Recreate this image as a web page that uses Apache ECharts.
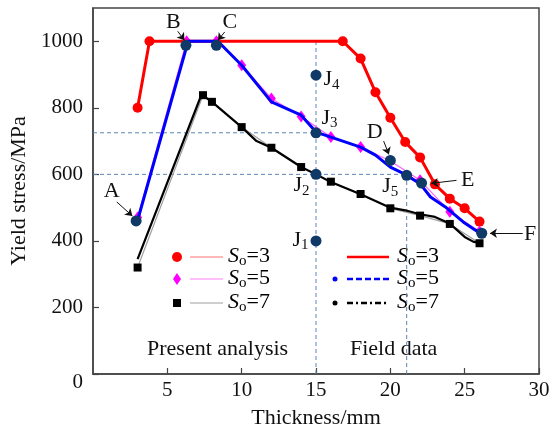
<!DOCTYPE html>
<html>
<head>
<meta charset="utf-8">
<script src="https://cdn.jsdelivr.net/npm/echarts@6/dist/echarts.min.js"></script>
<style>
  html, body { margin: 0; padding: 0; background: #fff; }
  #chart { width: 554px; height: 434px; }
</style>
</head>
<body>
<div id="chart"></div>
<script>
// Present analysis: model yield stress (MPa) against thickness (mm)
const analysisS3 = [[3, 800], [3.8, 1000], [16.8, 1000], [18, 948], [19, 847], [20, 770], [21, 697], [22, 651], [23, 570], [24, 527], [25, 498], [26, 458]];
const analysisS5 = [[3, 470], [6.3, 1000], [8.3, 1000], [10, 928], [12, 828], [14, 774], [16, 712], [18, 682], [20, 640], [22, 582], [24, 488], [26, 428]];
const analysisS7 = [[3, 320], [7.4, 838], [8, 818], [10, 742], [12, 680], [14, 622], [16, 578], [18, 541], [20, 498], [22, 476], [24, 451], [26, 393]];

// Field data curves
const fieldS3 = [[3, 800], [3.8, 1000], [16.8, 1000], [18, 948], [19, 847], [20, 770], [21, 697], [22, 651], [23, 570], [24, 527], [25, 498], [26, 458]];
const fieldS5 = [[3, 462], [6.4, 1000], [8.4, 1000], [10, 928], [12, 818], [14, 778], [15, 727], [16, 712], [18, 682], [19, 658], [20, 622], [21, 600], [22, 572], [22.7, 532], [23.7, 502], [24.9, 457], [25.7, 433], [26.1, 423]];
const fieldS7 = [[3, 345], [7.3, 840], [8, 818], [10, 742], [11, 700], [12, 680], [14, 622], [15, 600], [16, 577], [18, 540], [20, 500], [21, 492], [22, 480], [23, 472], [24, 452], [25, 412], [25.6, 397], [26, 395]];

// Key points
const keyNames = ['A', 'B', 'C', 'D', 'E', 'F', 'J1', 'J2', 'J3', 'J4', 'J5'];
const keyX = [2.9, 6.25, 8.3, 20, 22.1, 26.15, 15, 15, 15, 15, 21.1];
const keyY = [460, 988, 988, 642, 574, 423, 400, 600, 725, 898, 597];

// Dashed guide lines
const guides = [
  [[15, 0], [15, 1000]],
  [[21.1, 0], [21.1, 597]],
  [[0, 725], [15, 725]],
  [[0, 600], [21.1, 600]]
];

// Letter callouts: text anchor and arrow (tail -> head)
const calloutText = ['A', 'B', 'C', 'D', 'E', 'F'];
const calloutAt = [[1.25, 548], [5.4, 1056], [9.2, 1056], [18.95, 728], [25.2, 582], [29.4, 420]];
const calloutArrows = [
  [[1.6, 517], [2.65, 475]],
  [[5.7, 1030], [6.15, 1003]],
  [[8.86, 1028], [8.4, 1003]],
  [[19.55, 700], [19.9, 660]],
  [[24.45, 582], [22.75, 573]],
  [[28.9, 423], [26.7, 423]]
];

const xTicks = { min: 0, max: 30, step: 5 };
const yTicks = { min: 0, max: 1100, step: 200, top: 1000 };

const SERIF = '"Liberation Serif", "Times New Roman", serif';
const NAVY = '#0f3a68';
const GUIDE = '#5b86b5';

// label placement for the J points
const jLabel = {
  J1: { position: 'left', offset: [3, 0] },
  J2: { position: 'left', offset: [4, 12] },
  J3: { position: 'right', offset: [-5, -14] },
  J4: { position: 'right', offset: [-3, 5] },
  J5: { position: 'left', offset: [2, 12] }
};

const subRich = {
  j: { fontFamily: SERIF, fontSize: 22, color: '#111', lineHeight: 24, verticalAlign: 'top' },
  n: { fontFamily: SERIF, fontSize: 15, color: '#111', lineHeight: 10, verticalAlign: 'bottom' }
};

const keyData = keyNames.map((n, i) => {
  const item = { name: n, value: [keyX[i], keyY[i]] };
  if (jLabel[n]) {
    item.label = {
      show: true,
      position: jLabel[n].position,
      offset: jLabel[n].offset,
      formatter: '{j|J}{n|' + n.slice(1) + '}',
      rich: subRich
    };
  }
  return item;
});

const guideSeries = guides.map((g, i) => ({
  type: 'line',
  name: 'guide' + i,
  data: g,
  symbol: 'none',
  silent: true,
  lineStyle: { color: GUIDE, width: 1, type: [4, 3] },
  z: 1
}));

const chart = echarts.init(document.getElementById('chart'), null, { renderer: 'canvas' });

const soRich = {
  s: { fontFamily: SERIF, fontSize: 22, fontStyle: 'italic', color: '#111', lineHeight: 24, verticalAlign: 'top' },
  o: { fontFamily: SERIF, fontSize: 15, color: '#111', lineHeight: 10, verticalAlign: 'bottom' },
  e: { fontFamily: SERIF, fontSize: 22, color: '#111', lineHeight: 24, verticalAlign: 'top' }
};
const soText = v => '{s|S}{o|o}{e|=' + v + '}';

// Legend drawn as graphics (two blocks)
const legRows = [257, 279, 303];
const legendGraphics = [];
const leg1 = [
  { sym: 'circle', color: '#ff0000', line: '#ff7070', v: 3 },
  { sym: 'diamond', color: '#ff00ff', line: '#ff80ff', v: 5 },
  { sym: 'rect', color: '#000000', line: '#a0a0a0', v: 7 }
];
leg1.forEach((l, i) => {
  const y = legRows[i];
  if (l.sym === 'circle') legendGraphics.push({ type: 'circle', shape: { cx: 177, cy: y, r: 5 }, style: { fill: l.color } });
  if (l.sym === 'diamond') legendGraphics.push({ type: 'polygon', shape: { points: [[177, y - 6], [181, y], [177, y + 6], [173, y]] }, style: { fill: l.color } });
  if (l.sym === 'rect') legendGraphics.push({ type: 'rect', shape: { x: 173, y: y - 4, width: 8, height: 8 }, style: { fill: l.color } });
  legendGraphics.push({ type: 'line', shape: { x1: 190, y1: y, x2: 223, y2: y }, style: { stroke: l.line, lineWidth: 1.2 } });
  legendGraphics.push({ type: 'text', x: 228, y: y - 12, style: { text: soText(l.v), rich: soRich } });
});
const leg2 = [
  { color: '#ff0000', dash: null, dot: false, v: 3 },
  { color: '#0000ff', dash: [6, 3], dot: true, v: 5 },
  { color: '#000000', dash: [6, 3, 2, 3], dot: true, v: 7 }
];
leg2.forEach((l, i) => {
  const y = legRows[i];
  if (l.dot) legendGraphics.push({ type: 'circle', shape: { cx: 335, cy: y, r: 2.5 }, style: { fill: l.color } });
  legendGraphics.push({ type: 'line', shape: { x1: 347, y1: y, x2: 389, y2: y }, style: { stroke: l.color, lineWidth: 2.5, lineDash: l.dash || null } });
  legendGraphics.push({ type: 'text', x: 397, y: y - 12, style: { text: soText(l.v), rich: soRich } });
});
legendGraphics.push({ type: 'text', x: 147, y: 338, style: { text: 'Present analysis', font: '22px ' + SERIF, fill: '#111' } });
legendGraphics.push({ type: 'text', x: 350, y: 338, style: { text: 'Field data', font: '22px ' + SERIF, fill: '#111' } });

const option = {
  backgroundColor: '#fff',
  animation: false,
  grid: { left: 93, right: 15, top: 8, bottom: 60, show: true, borderColor: '#444', borderWidth: 1.5, backgroundColor: 'transparent' },
  xAxis: {
    type: 'value', min: xTicks.min, max: xTicks.max, interval: xTicks.step,
    name: 'Thickness/mm', nameLocation: 'middle', nameGap: 33,
    nameTextStyle: { fontFamily: SERIF, fontSize: 22, color: '#111' },
    axisLine: { lineStyle: { color: '#444', width: 1.5 } },
    axisTick: { inside: true, length: 6, lineStyle: { color: '#444', width: 1.2 } },
    axisLabel: { fontFamily: SERIF, fontSize: 21, color: '#111', margin: 6, showMinLabel: false },
    splitLine: { show: false }
  },
  yAxis: {
    type: 'value', min: yTicks.min, max: yTicks.max, interval: yTicks.step,
    name: 'Yield stress/MPa', nameLocation: 'middle', nameGap: 56,
    nameTextStyle: { fontFamily: SERIF, fontSize: 22, color: '#111' },
    axisLine: { lineStyle: { color: '#444', width: 1.5 } },
    axisTick: { inside: true, length: 6, lineStyle: { color: '#444', width: 1.2 } },
    axisLabel: {
      fontFamily: SERIF, fontSize: 21, color: '#111', margin: 10, showMaxLabel: false,
      formatter: v => v === 0 ? '{z|0}' : (v <= yTicks.top ? String(v) : ''),
      rich: { z: { fontFamily: SERIF, fontSize: 21, color: '#111', padding: [17, 0, 0, 0] } }
    },
    splitLine: { show: false }
  },
  graphic: legendGraphics,
  series: [
    ...guideSeries,
    {
      type: 'line', name: 'Present analysis So=3', data: analysisS3,
      symbol: 'circle', symbolSize: 10, itemStyle: { color: '#ff0000' },
      lineStyle: { color: '#ff7070', width: 1.2 }, z: 2
    },
    {
      type: 'line', name: 'Present analysis So=5', data: analysisS5,
      symbol: 'diamond', symbolSize: [9, 12], itemStyle: { color: '#ff00ff' },
      lineStyle: { color: '#ff60ff', width: 1.2 }, z: 2
    },
    {
      type: 'line', name: 'Present analysis So=7', data: analysisS7,
      symbol: 'rect', symbolSize: 8, itemStyle: { color: '#000' },
      lineStyle: { color: '#a0a0a0', width: 1.2 }, z: 2
    },
    {
      type: 'line', name: 'Field data So=3', data: fieldS3, symbol: 'none',
      lineStyle: { color: '#ff0000', width: 3 }, z: 3
    },
    {
      type: 'line', name: 'Field data So=5', data: fieldS5, symbol: 'none',
      lineStyle: { color: '#0000ff', width: 3 }, z: 3
    },
    {
      type: 'line', name: 'Field data So=7', data: fieldS7, symbol: 'none',
      lineStyle: { color: '#000', width: 2.2 }, z: 3
    },
    {
      type: 'scatter', name: 'Key points', data: keyData,
      symbol: 'circle', symbolSize: 11, itemStyle: { color: NAVY, opacity: 1 }, z: 5
    },
    {
      type: 'lines', name: 'Callout arrows', coordinateSystem: 'cartesian2d',
      data: calloutArrows.map(c => ({ coords: c })),
      symbol: ['none', 'arrow'], symbolSize: 7,
      lineStyle: { color: '#111', width: 1, opacity: 1 }, z: 6
    },
    {
      type: 'scatter', name: 'Callout letters',
      data: calloutText.map((t, i) => ({ name: t, value: calloutAt[i] })),
      symbolSize: 2, itemStyle: { color: 'rgba(0,0,0,0)', opacity: 1 },
      label: { show: true, position: 'inside', formatter: '{b}', fontFamily: SERIF, fontSize: 22, color: '#111' },
      z: 6
    }
  ]
};
chart.setOption(option);
</script>
</body>
</html>
